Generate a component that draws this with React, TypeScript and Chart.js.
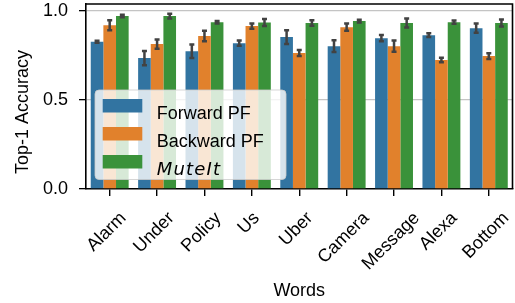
import React, { useEffect, useRef } from "react";
import { Chart, registerables } from "chart.js";

Chart.register(...registerables);

const words = ["Alarm", "Under", "Policy", "Us", "Uber", "Camera", "Message", "Alexa", "Bottom"];
const seriesNames = ["Forward PF", "Backward PF", "MuteIt"];
const forwardPF = [0.828, 0.736, 0.775, 0.82, 0.854, 0.803, 0.848, 0.865, 0.904];
const backwardPF = [0.921, 0.815, 0.86, 0.916, 0.764, 0.91, 0.803, 0.725, 0.747];
const muteIt = [0.972, 0.972, 0.938, 0.936, 0.933, 0.944, 0.933, 0.938, 0.933];
const forwardErr = [0.006, 0.04, 0.038, 0.015, 0.039, 0.033, 0.018, 0.011, 0.026];
const backwardErr = [0.028, 0.026, 0.029, 0.015, 0.017, 0.021, 0.032, 0.013, 0.016];
const muteItErr = [0.007, 0.013, 0.007, 0.02, 0.015, 0.008, 0.025, 0.009, 0.02];
const yTicks = [0, 0.5, 1.0];
const colors = ["#3274a1", "#e1812c", "#3a923a"];
const xTitle = "Words";
const yTitle = "Top-1 Accuracy";

const FONT = "'Liberation Sans', Arial, Helvetica, sans-serif";
const TEXT = "#000000";

const errorBarPlugin = {
  id: "errorBars",
  afterDatasetsDraw(chart: any) {
    const ctx = chart.ctx;
    const y = chart.scales.y;
    ctx.save();
    ctx.strokeStyle = "#424242";
    ctx.lineWidth = 2.5;
    chart.data.datasets.forEach((ds: any, i: number) => {
      const meta = chart.getDatasetMeta(i);
      meta.data.forEach((bar: any, j: number) => {
        const v = ds.data[j];
        const e = ds.errors[j];
        const yt = y.getPixelForValue(v + e);
        const yb = y.getPixelForValue(v - e);
        const x = bar.x;
        ctx.beginPath();
        ctx.moveTo(x, yt);
        ctx.lineTo(x, yb);
        ctx.moveTo(x - 2.5, yt);
        ctx.lineTo(x + 2.5, yt);
        ctx.moveTo(x - 2.5, yb);
        ctx.lineTo(x + 2.5, yb);
        ctx.stroke();
      });
    });
    // top and right spines
    const a = chart.chartArea;
    ctx.strokeStyle = "#000";
    ctx.lineWidth = 1.6;
    ctx.beginPath();
    ctx.moveTo(a.left, a.top);
    ctx.lineTo(a.right, a.top);
    ctx.lineTo(a.right, a.bottom);
    ctx.stroke();
    ctx.restore();
  },
};

const overlayPlugin = {
  id: "overlay",
  afterDraw(chart: any) {
    const ctx = chart.ctx;
    const a = chart.chartArea;
    const xs = chart.scales.x;
    ctx.save();
    // x tick labels, rotated 45deg, centered like matplotlib
    ctx.font = `18px ${FONT}`;
    ctx.fillStyle = TEXT;
    words.forEach((w, i) => {
      const px = xs.getPixelForTick(i);
      const m = ctx.measureText(w);
      const h = 20.7;
      const d = (m.width + h) / (2 * Math.SQRT2);
      ctx.save();
      ctx.translate(px - 3, a.bottom + 19 + d);
      ctx.rotate(-Math.PI / 4);
      ctx.textAlign = "center";
      ctx.textBaseline = "middle";
      ctx.fillText(w, 0, 0);
      ctx.restore();
    });
    // axis titles
    ctx.textAlign = "center";
    ctx.textBaseline = "alphabetic";
    ctx.fillText(xTitle, (a.left + a.right) / 2, 296);
    ctx.save();
    ctx.translate(28, 112);
    ctx.rotate(-Math.PI / 2);
    ctx.fillText(yTitle, 0, 0);
    ctx.restore();

    // legend
    const lx = a.left + 9;
    const ly = a.top + 86;
    const lw = 191;
    const lh = 89.5;
    ctx.beginPath();
    (ctx as any).roundRect(lx, ly, lw, lh, 4);
    ctx.fillStyle = "rgba(255,255,255,0.8)";
    ctx.fill();
    ctx.strokeStyle = "rgba(204,204,204,0.8)";
    ctx.lineWidth = 1;
    ctx.stroke();
    seriesNames.forEach((name, i) => {
      const py = ly + 9 + i * 28;
      ctx.fillStyle = colors[i];
      ctx.fillRect(lx + 7.7, py, 39.6, 13.5);
      ctx.fillStyle = TEXT;
      ctx.textAlign = "left";
      ctx.textBaseline = "alphabetic";
      if (i === 2) {
        ctx.font = `oblique 18px 'DejaVu Sans', sans-serif`;
        (ctx as any).letterSpacing = "1.2px";
      } else {
        ctx.font = `18px ${FONT}`;
        (ctx as any).letterSpacing = "0px";
      }
      ctx.fillText(name, lx + 61.7, py + 10 + 0.5 + 9);
    });
    ctx.restore();
  },
};

export default function App() {
  const ref = useRef<HTMLCanvasElement | null>(null);
  useEffect(() => {
    if (!ref.current) return;
    Chart.defaults.font.family = FONT;
    const chart = new Chart(ref.current, {
      type: "bar",
      data: {
        labels: words,
        datasets: [
          { label: seriesNames[0], data: forwardPF, errors: forwardErr, backgroundColor: colors[0] },
          { label: seriesNames[1], data: backwardPF, errors: backwardErr, backgroundColor: colors[1] },
          { label: seriesNames[2], data: muteIt, errors: muteItErr, backgroundColor: colors[2] },
        ].map((d) => ({ ...d, borderWidth: 0, categoryPercentage: 0.8, barPercentage: 1.0 })) as any,
      },
      options: {
        animation: false,
        responsive: true,
        maintainAspectRatio: false,
        layout: { padding: { top: 4, right: 2.5, left: 0, bottom: 0 } },
        plugins: { legend: { display: false }, tooltip: { enabled: false } },
        scales: {
          x: {
            afterFit: (s: any) => {
              s.height = 114;
              s.paddingLeft = 0;
              s.paddingRight = 0;
            },
            ticks: { display: false },
            grid: { display: true, drawOnChartArea: false, offset: false, tickColor: "#000", tickLength: 7, lineWidth: 1.4 },
            border: { display: true, color: "#000", width: 1.6 },
          },
          y: {
            min: 0,
            max: 1.04,
            afterBuildTicks: (s: any) => {
              s.ticks = yTicks.map((v) => ({ value: v }));
            },
            afterFit: (s: any) => {
              s.width = 86;
              s.paddingTop = 0;
              s.paddingBottom = 0;
            },
            ticks: {
              color: TEXT,
              font: { family: FONT, size: 18 },
              padding: 11,
              callback: (v: any) => Number(v).toFixed(1),
            },
            grid: {
              color: (c: any) => (c.tick && c.tick.value === 0 ? "rgba(0,0,0,0)" : "#c4c4c4"),
              lineWidth: 1.3,
              tickColor: "#000",
              tickLength: 7,
            },
            border: { display: true, color: "#000", width: 1.6 },
          },
        },
      } as any,
      plugins: [errorBarPlugin, overlayPlugin],
    });
    return () => chart.destroy();
  }, []);
  return (
    <div style={{ position: "absolute", left: 0, top: 0, width: 515, height: 303 }}>
      <canvas ref={ref} />
    </div>
  );
}
